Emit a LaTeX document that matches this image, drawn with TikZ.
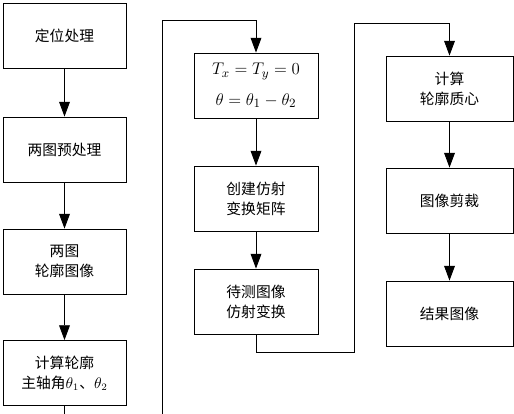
\documentclass[tikz,border=0pt]{standalone}
\usepackage{fontspec}
\newfontfamily\cjk{Noto Sans CJK SC}
\usetikzlibrary{positioning}
\usetikzlibrary{arrows.meta}
\tikzset{
    mybox/.style = {rectangle, draw=black, line width=0.6pt, minimum width=3.075cm, minimum height=1.625cm, align=center, inner sep=1pt, font=\cjk\fontsize{10.5pt}{14.2pt}\selectfont},
    myboxm/.style = {mybox, font=\fontsize{13pt}{22pt}\selectfont},
    edgen/.style = {-{Triangle[length=0.37cm,width=0.27cm]}, line width=0.6pt},
}

\begin{document}
\begin{tikzpicture}
\useasboundingbox (0,0) rectangle (12.85,10.325);
\clip (0,0) rectangle (12.85,10.325);
\node[mybox] at (1.6125, 9.4250) (p1) {定位处理};
\node[mybox] at (1.6125, 6.5875) (p2) {两图预处理};
\node[mybox] at (1.6125, 3.7875) (p3) {两图\\轮廓图像};
\node[mybox] at (1.6125, 1.0000) (p4) {计算轮廓\\主轴角$\theta_1$、$\theta_2$};

\node[myboxm, minimum width=3.1cm] at (6.4000, 8.1875) (a1) {$T_x=T_y=0$\\$\theta=\theta_1-\theta_2$};
\node[mybox, minimum width=3.1cm] at (6.4000, 5.3625) (a2) {创建仿射\\变换矩阵};
\node[mybox, minimum width=3.1cm] at (6.4000, 2.7875) (a3) {待测图像\\仿射变换};

\node[mybox, minimum width=3.175cm] at (11.2375, 8.1125) (b1) {计算\\轮廓质心};
\node[mybox, minimum width=3.175cm] at (11.2375, 5.3125) (b2) {图像剪裁};
\node[mybox, minimum width=3.175cm] at (11.2375, 2.4875) (b3) {结果图像};

\coordinate (t1) at (4.05, 9.825);
\coordinate (t2) at (8.85, 9.75);
%
\draw[edgen] (p1) -- (p2);
\draw[edgen] (p2) -- (p3);
\draw[edgen] (p3) -- (p4);
\draw[edgen] (p4.south) -- ++(0,-0.8) -| (t1) -| (a1.north);
\draw[edgen] (a1) -- (a2);
\draw[edgen] (a2) -- (a3);
\draw[edgen] (a3.south) -- ++(0,-0.45) -| (t2) -| (b1.north);
\draw[edgen] (b1) -- (b2);
\draw[edgen] (b2) -- (b3);
\end{tikzpicture}
\end{document}
